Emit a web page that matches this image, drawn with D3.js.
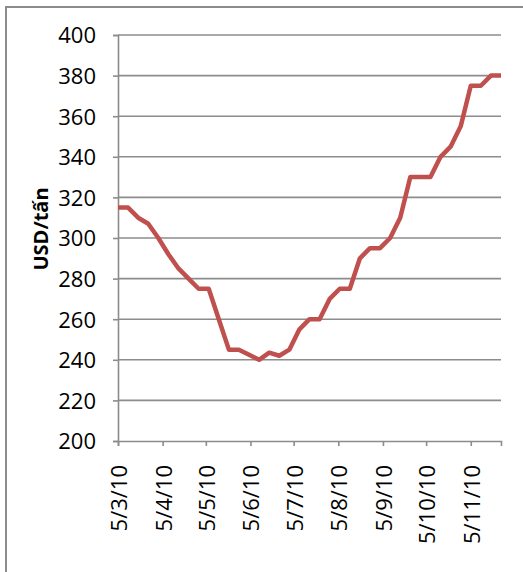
<!DOCTYPE html>
<html>
<head>
<meta charset="utf-8">
<script src="https://cdn.jsdelivr.net/npm/d3@7"></script>
<style>
  body { margin: 0; background: #fff; }
  svg { display: block; }
  text { font-family: "Open Sans", sans-serif; fill: #000; }
</style>
</head>
<body>
<div id="chart"></div>
<script>
// weekly price, first point 5 Mar 2010
var startDate = new Date(2010, 2, 5)
var prices = [315, 315, 310, 307, 300, 292, 285, 280, 275, 275,
              260, 245, 245, 242.5, 240, 243.5, 242, 245, 255, 260,
              260, 270, 275, 275, 290, 295, 295, 300, 310, 330,
              330, 330, 340, 345, 355, 375, 375, 380, 380]
var yTicks = [200, 220, 240, 260, 280, 300, 320, 340, 360, 380, 400]
var xTickDates = [
  new Date(2010, 2, 5), new Date(2010, 3, 5), new Date(2010, 4, 5),
  new Date(2010, 5, 5), new Date(2010, 6, 5), new Date(2010, 7, 5),
  new Date(2010, 8, 5), new Date(2010, 9, 5), new Date(2010, 10, 5)
]
var yLabel = 'USD/tấn'

var width  = 523,
    height = 572,
    margin = { top: 35, right: 22, bottom: 131, left: 118 }

var data = prices.map((v, i) => ({ date: d3.timeDay.offset(startDate, i * 7), value: v }))

const svg = d3.select('#chart')
  .append('svg')
  .attr('width', width)
  .attr('height', height)

// outer frame (right/bottom edges fall outside the picture)
svg.append('rect')
  .attr('x', 6).attr('y', 7)
  .attr('width', 530).attr('height', 580)
  .attr('fill', 'none')
  .attr('stroke', '#8c8c8c')
  .attr('stroke-width', 2)

const x = d3.scaleTime()
  .domain(d3.extent(data, d => d.date))
  .range([margin.left, width - margin.right])

const y = d3.scaleLinear()
  .domain([200, 400])
  .range([height - margin.bottom, margin.top])

// gridlines
svg.append('g')
  .selectAll('line')
  .data(yTicks.slice(1))
  .enter()
  .append('line')
    .attr('x1', margin.left)
    .attr('x2', width - margin.right)
    .attr('y1', d => y(d))
    .attr('y2', d => y(d))
    .attr('stroke', '#8c8c8c')
    .attr('stroke-width', 1.6)

// y axis
const yAxis = svg.append('g')
  .attr('transform', `translate(${margin.left},0)`)
  .call(d3.axisLeft(y).tickValues(yTicks).tickSize(5).tickPadding(17))
yAxis.select('.domain').attr('stroke', '#8c8c8c').attr('stroke-width', 1.6)
yAxis.selectAll('.tick line').attr('stroke', '#8c8c8c').attr('stroke-width', 1.6)
yAxis.selectAll('text')
  .style('font-size', '22px')
  .style('font-family', '"Open Sans", sans-serif')
  .attr('dy', '0.36em')

// x axis
const xAxis = svg.append('g')
  .attr('transform', `translate(0,${height - margin.bottom})`)
  .call(d3.axisBottom(x).tickValues(xTickDates).tickSize(5).tickFormat(d3.timeFormat('%-d/%-m/%y')))
xAxis.select('.domain').attr('stroke', '#8c8c8c').attr('stroke-width', 1.6)
xAxis.selectAll('.tick line').attr('stroke', '#8c8c8c').attr('stroke-width', 1.6)
xAxis.selectAll('text')
  .style('font-size', '22px')
  .style('font-family', '"Open Sans", sans-serif')
  .attr('text-anchor', 'end')
  .attr('transform', 'rotate(-90)')
  .attr('x', -24)
  .attr('y', 0)
  .attr('dy', '0.38em')

// axis title
svg.append('text')
  .attr('transform', 'translate(48,229) rotate(-90)')
  .attr('text-anchor', 'middle')
  .style('font-size', '20px')
  .style('font-weight', 'bold')
  .text(yLabel)

// price line
const line = d3.line()
  .x(d => x(d.date))
  .y(d => y(d.value))

svg.append('path')
  .datum(data)
  .attr('fill', 'none')
  .attr('stroke', '#c0504d')
  .attr('stroke-width', 4.5)
  .attr('stroke-linejoin', 'round')
  .attr('d', line)
</script>
</body>
</html>
